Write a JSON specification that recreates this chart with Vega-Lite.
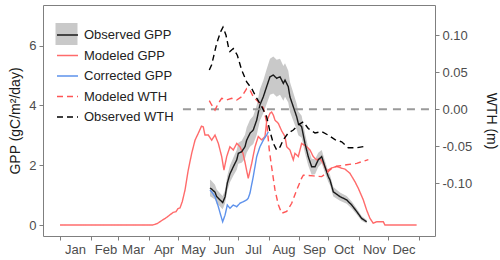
{
  "$schema": "https://vega.github.io/schema/vega-lite/v6.json",
  "width": 392,
  "height": 231,
  "autosize": {"type": "none"},
  "padding": {"left": 43, "top": 5, "right": 65, "bottom": 24},
  "config": {
    "view": {"stroke": "#7f7f7f", "strokeWidth": 1},
    "font": "Liberation Sans",
    "axis": {"domain": false, "grid": false, "tickColor": "#7f7f7f", "tickSize": 4, "labelColor": "#4d4d4d", "labelFontSize": 13, "titleFontSize": 14, "titleFontWeight": "normal", "titleColor": "#1a1a1a", "labelPadding": 3, "labelOverlap": false, "labelFlush": false, "labelBound": false},
    "axisX": {"labelOverlap": false}
  },
  "datasets": {
    "lines": [
      {"s":"Modeled GPP","d":1,"v":0},{"s":"Modeled GPP","d":95.3,"v":0},{"s":"Modeled GPP","d":100,"v":0.05},{"s":"Modeled GPP","d":104,"v":0.14},{"s":"Modeled GPP","d":108,"v":0.22},{"s":"Modeled GPP","d":112,"v":0.32},{"s":"Modeled GPP","d":116,"v":0.42},{"s":"Modeled GPP","d":119,"v":0.45},{"s":"Modeled GPP","d":121,"v":0.55},{"s":"Modeled GPP","d":123,"v":0.57},{"s":"Modeled GPP","d":125.3,"v":0.78},{"s":"Modeled GPP","d":128.1,"v":1.17},{"s":"Modeled GPP","d":131.4,"v":1.84},{"s":"Modeled GPP","d":134.9,"v":2.4},{"s":"Modeled GPP","d":138.3,"v":2.84},{"s":"Modeled GPP","d":141.6,"v":3.07},{"s":"Modeled GPP","d":144.9,"v":3.31},{"s":"Modeled GPP","d":146.7,"v":3.28},{"s":"Modeled GPP","d":148.4,"v":3.01},{"s":"Modeled GPP","d":151.8,"v":3.01},{"s":"Modeled GPP","d":155.2,"v":2.84},{"s":"Modeled GPP","d":158.6,"v":3.01},{"s":"Modeled GPP","d":162,"v":2.73},{"s":"Modeled GPP","d":165.4,"v":2.29},{"s":"Modeled GPP","d":167.7,"v":1.84},{"s":"Modeled GPP","d":170.5,"v":2.29},{"s":"Modeled GPP","d":173.8,"v":2.62},{"s":"Modeled GPP","d":177.2,"v":2.51},{"s":"Modeled GPP","d":180.7,"v":2.73},{"s":"Modeled GPP","d":184,"v":2.62},{"s":"Modeled GPP","d":187,"v":2.4},{"s":"Modeled GPP","d":189.1,"v":2.1},{"s":"Modeled GPP","d":192.4,"v":1.56},{"s":"Modeled GPP","d":195.9,"v":2.06},{"s":"Modeled GPP","d":199.3,"v":2.62},{"s":"Modeled GPP","d":202.6,"v":2.96},{"s":"Modeled GPP","d":206,"v":2.85},{"s":"Modeled GPP","d":209.4,"v":2.96},{"s":"Modeled GPP","d":211.1,"v":3.46},{"s":"Modeled GPP","d":214.5,"v":3.74},{"s":"Modeled GPP","d":216.2,"v":3.78},{"s":"Modeled GPP","d":217.9,"v":3.68},{"s":"Modeled GPP","d":219.6,"v":3.51},{"s":"Modeled GPP","d":223,"v":3.4},{"s":"Modeled GPP","d":226.4,"v":3.15},{"s":"Modeled GPP","d":229.8,"v":2.96},{"s":"Modeled GPP","d":231.5,"v":2.62},{"s":"Modeled GPP","d":234.8,"v":2.51},{"s":"Modeled GPP","d":238.2,"v":2.18},{"s":"Modeled GPP","d":239.9,"v":2.4},{"s":"Modeled GPP","d":243.3,"v":2.29},{"s":"Modeled GPP","d":246.7,"v":2.73},{"s":"Modeled GPP","d":251.8,"v":2.62},{"s":"Modeled GPP","d":255.2,"v":2.51},{"s":"Modeled GPP","d":258.5,"v":2.29},{"s":"Modeled GPP","d":261.9,"v":2.18},{"s":"Modeled GPP","d":265.3,"v":2.23},{"s":"Modeled GPP","d":268.7,"v":2.06},{"s":"Modeled GPP","d":272.2,"v":1.81},{"s":"Modeled GPP","d":277.2,"v":1.91},{"s":"Modeled GPP","d":282.3,"v":1.96},{"s":"Modeled GPP","d":287.4,"v":1.9},{"s":"Modeled GPP","d":290.8,"v":1.87},{"s":"Modeled GPP","d":295.8,"v":1.73},{"s":"Modeled GPP","d":300.9,"v":1.45},{"s":"Modeled GPP","d":304.3,"v":1.23},{"s":"Modeled GPP","d":309.4,"v":0.84},{"s":"Modeled GPP","d":312.8,"v":0.5},{"s":"Modeled GPP","d":316.2,"v":0.22},{"s":"Modeled GPP","d":319.5,"v":0.06},{"s":"Modeled GPP","d":323,"v":0.11},{"s":"Modeled GPP","d":329.7,"v":0.11},{"s":"Modeled GPP","d":331.4,"v":0},{"s":"Modeled GPP","d":363.6,"v":0},
      {"s":"Corrected GPP","d":153.5,"v":1.17},{"s":"Corrected GPP","d":155.2,"v":1.11},{"s":"Corrected GPP","d":158.6,"v":0.95},{"s":"Corrected GPP","d":162,"v":0.61},{"s":"Corrected GPP","d":164.4,"v":0.33},{"s":"Corrected GPP","d":166.4,"v":0.11},{"s":"Corrected GPP","d":168.8,"v":0.33},{"s":"Corrected GPP","d":171.1,"v":0.67},{"s":"Corrected GPP","d":173.8,"v":0.56},{"s":"Corrected GPP","d":177.2,"v":0.67},{"s":"Corrected GPP","d":180.7,"v":0.61},{"s":"Corrected GPP","d":184,"v":0.73},{"s":"Corrected GPP","d":187.4,"v":0.78},{"s":"Corrected GPP","d":190.8,"v":0.84},{"s":"Corrected GPP","d":192.4,"v":0.9},{"s":"Corrected GPP","d":194.2,"v":1.07},{"s":"Corrected GPP","d":197.5,"v":1.62},{"s":"Corrected GPP","d":201,"v":2.29},{"s":"Corrected GPP","d":204.3,"v":2.62},{"s":"Corrected GPP","d":207.7,"v":2.84},{"s":"Corrected GPP","d":211.1,"v":3.01},{"s":"Corrected GPP","d":212.8,"v":3.12},
      {"s":"Observed GPP","d":153.5,"v":1.24},{"s":"Observed GPP","d":155.2,"v":1.2},{"s":"Observed GPP","d":158.6,"v":1.1},{"s":"Observed GPP","d":160.3,"v":0.95},{"s":"Observed GPP","d":163.7,"v":0.84},{"s":"Observed GPP","d":166.4,"v":0.75},{"s":"Observed GPP","d":168.8,"v":0.94},{"s":"Observed GPP","d":171.1,"v":1.4},{"s":"Observed GPP","d":173.8,"v":1.71},{"s":"Observed GPP","d":177.2,"v":1.95},{"s":"Observed GPP","d":180.7,"v":2.18},{"s":"Observed GPP","d":182.3,"v":2.4},{"s":"Observed GPP","d":185.7,"v":2.45},{"s":"Observed GPP","d":189.1,"v":2.62},{"s":"Observed GPP","d":190.8,"v":2.84},{"s":"Observed GPP","d":194.2,"v":3.07},{"s":"Observed GPP","d":197.5,"v":3.18},{"s":"Observed GPP","d":201,"v":3.51},{"s":"Observed GPP","d":204.3,"v":4.02},{"s":"Observed GPP","d":207.7,"v":4.29},{"s":"Observed GPP","d":211.1,"v":4.63},{"s":"Observed GPP","d":214.5,"v":4.96},{"s":"Observed GPP","d":217.9,"v":5.02},{"s":"Observed GPP","d":221.3,"v":4.91},{"s":"Observed GPP","d":224.7,"v":4.96},{"s":"Observed GPP","d":228.1,"v":4.74},{"s":"Observed GPP","d":229.8,"v":4.85},{"s":"Observed GPP","d":233.1,"v":4.63},{"s":"Observed GPP","d":234.8,"v":4.29},{"s":"Observed GPP","d":238.2,"v":3.96},{"s":"Observed GPP","d":241.7,"v":3.62},{"s":"Observed GPP","d":243.3,"v":3.4},{"s":"Observed GPP","d":246.7,"v":3.29},{"s":"Observed GPP","d":250.1,"v":2.73},{"s":"Observed GPP","d":253.4,"v":2.29},{"s":"Observed GPP","d":256.9,"v":1.95},{"s":"Observed GPP","d":260.3,"v":1.95},{"s":"Observed GPP","d":263.6,"v":2.18},{"s":"Observed GPP","d":267.1,"v":2.29},{"s":"Observed GPP","d":270.4,"v":1.95},{"s":"Observed GPP","d":273.8,"v":1.62},{"s":"Observed GPP","d":275.5,"v":1.51},{"s":"Observed GPP","d":278.9,"v":1.11},{"s":"Observed GPP","d":285.7,"v":0.95},{"s":"Observed GPP","d":292.5,"v":0.84},{"s":"Observed GPP","d":297.6,"v":0.67},{"s":"Observed GPP","d":302.7,"v":0.45},{"s":"Observed GPP","d":307.7,"v":0.22},{"s":"Observed GPP","d":312.8,"v":0.11},
      {"s":"Modeled WTH","d":152.8,"v":0.0116},{"s":"Modeled WTH","d":155.2,"v":0.0058},{"s":"Modeled WTH","d":158.6,"v":-0.001},{"s":"Modeled WTH","d":162,"v":0.0081},{"s":"Modeled WTH","d":165.4,"v":0.0149},{"s":"Modeled WTH","d":170.5,"v":0.0126},{"s":"Modeled WTH","d":175.6,"v":0.0149},{"s":"Modeled WTH","d":180.7,"v":0.0126},{"s":"Modeled WTH","d":185.7,"v":0.017},{"s":"Modeled WTH","d":190.8,"v":0.028},{"s":"Modeled WTH","d":194.2,"v":0.026},{"s":"Modeled WTH","d":197.5,"v":0.017},{"s":"Modeled WTH","d":202.6,"v":0.01},{"s":"Modeled WTH","d":207.7,"v":0.002},{"s":"Modeled WTH","d":211.1,"v":-0.017},{"s":"Modeled WTH","d":213.8,"v":-0.055},{"s":"Modeled WTH","d":216.2,"v":-0.078},{"s":"Modeled WTH","d":219.6,"v":-0.109},{"s":"Modeled WTH","d":223,"v":-0.129},{"s":"Modeled WTH","d":226.4,"v":-0.1405},{"s":"Modeled WTH","d":231.5,"v":-0.138},{"s":"Modeled WTH","d":236.6,"v":-0.127},{"s":"Modeled WTH","d":241.7,"v":-0.109},{"s":"Modeled WTH","d":246.7,"v":-0.093},{"s":"Modeled WTH","d":248.4,"v":-0.089},{"s":"Modeled WTH","d":258.5,"v":-0.09},{"s":"Modeled WTH","d":267.1,"v":-0.091},{"s":"Modeled WTH","d":272.2,"v":-0.086},{"s":"Modeled WTH","d":277.2,"v":-0.08},{"s":"Modeled WTH","d":282.3,"v":-0.077},{"s":"Modeled WTH","d":292.5,"v":-0.075},{"s":"Modeled WTH","d":302.7,"v":-0.073},{"s":"Modeled WTH","d":314.5,"v":-0.068},
      {"s":"Observed WTH","d":152.8,"v":0.053},{"s":"Observed WTH","d":155.2,"v":0.06},{"s":"Observed WTH","d":160.3,"v":0.089},{"s":"Observed WTH","d":164.4,"v":0.105},{"s":"Observed WTH","d":166.7,"v":0.111},{"s":"Observed WTH","d":169.8,"v":0.1},{"s":"Observed WTH","d":172.1,"v":0.085},{"s":"Observed WTH","d":173.8,"v":0.078},{"s":"Observed WTH","d":177.2,"v":0.082},{"s":"Observed WTH","d":181.3,"v":0.073},{"s":"Observed WTH","d":185.7,"v":0.053},{"s":"Observed WTH","d":190.8,"v":0.037},{"s":"Observed WTH","d":195.9,"v":0.028},{"s":"Observed WTH","d":201,"v":0.015},{"s":"Observed WTH","d":206.1,"v":0.0035},{"s":"Observed WTH","d":211.1,"v":-0.01},{"s":"Observed WTH","d":214.5,"v":-0.03},{"s":"Observed WTH","d":217.9,"v":-0.046},{"s":"Observed WTH","d":221.3,"v":-0.055},{"s":"Observed WTH","d":224.7,"v":-0.051},{"s":"Observed WTH","d":228.1,"v":-0.041},{"s":"Observed WTH","d":233.1,"v":-0.032},{"s":"Observed WTH","d":238.2,"v":-0.028},{"s":"Observed WTH","d":243.3,"v":-0.021},{"s":"Observed WTH","d":248.4,"v":-0.017},{"s":"Observed WTH","d":253.4,"v":-0.026},{"s":"Observed WTH","d":260.3,"v":-0.032},{"s":"Observed WTH","d":267.1,"v":-0.03},{"s":"Observed WTH","d":273.8,"v":-0.035},{"s":"Observed WTH","d":280.6,"v":-0.041},{"s":"Observed WTH","d":287.4,"v":-0.044},{"s":"Observed WTH","d":294.1,"v":-0.052},{"s":"Observed WTH","d":302.7,"v":-0.052},{"s":"Observed WTH","d":311.1,"v":-0.05}
    ],
    "band": [
      {"d":153.5,"lo":0.96,"hi":1.52},{"d":155.2,"lo":0.93,"hi":1.47},{"d":158.6,"lo":0.85,"hi":1.35},{"d":160.3,"lo":0.71,"hi":1.19},{"d":163.7,"lo":0.62,"hi":1.06},{"d":166.4,"lo":0.53,"hi":0.97},{"d":168.8,"lo":0.72,"hi":1.16},{"d":171.1,"lo":1.15,"hi":1.65},{"d":173.8,"lo":1.43,"hi":1.99},{"d":177.2,"lo":1.65,"hi":2.25},{"d":180.7,"lo":1.85,"hi":2.51},{"d":182.3,"lo":2.05,"hi":2.75},{"d":185.7,"lo":2.08,"hi":2.82},{"d":189.1,"lo":2.22,"hi":3.02},{"d":190.8,"lo":2.42,"hi":3.26},{"d":194.2,"lo":2.62,"hi":3.52},{"d":197.5,"lo":2.71,"hi":3.65},{"d":201,"lo":3.01,"hi":4.01},{"d":204.3,"lo":3.5,"hi":4.54},{"d":207.7,"lo":3.74,"hi":4.84},{"d":211.1,"lo":4.05,"hi":5.21},{"d":214.5,"lo":4.36,"hi":5.56},{"d":217.9,"lo":4.4,"hi":5.64},{"d":221.3,"lo":4.29,"hi":5.53},{"d":224.7,"lo":4.36,"hi":5.56},{"d":228.1,"lo":4.16,"hi":5.32},{"d":229.8,"lo":4.29,"hi":5.41},{"d":233.1,"lo":4.1,"hi":5.16},{"d":234.8,"lo":3.79,"hi":4.79},{"d":238.2,"lo":3.49,"hi":4.43},{"d":241.7,"lo":3.19,"hi":4.05},{"d":243.3,"lo":3.0,"hi":3.8},{"d":246.7,"lo":2.92,"hi":3.66},{"d":250.1,"lo":2.4,"hi":3.06},{"d":253.4,"lo":1.99,"hi":2.59},{"d":256.9,"lo":1.68,"hi":2.22},{"d":260.3,"lo":1.7,"hi":2.2},{"d":263.6,"lo":1.94,"hi":2.42},{"d":267.1,"lo":2.07,"hi":2.51},{"d":270.4,"lo":1.75,"hi":2.15},{"d":273.8,"lo":1.44,"hi":1.8},{"d":275.5,"lo":1.34,"hi":1.68},{"d":278.9,"lo":0.95,"hi":1.27},{"d":285.7,"lo":0.81,"hi":1.09},{"d":292.5,"lo":0.71,"hi":0.97},{"d":297.6,"lo":0.55,"hi":0.79},{"d":302.7,"lo":0.35,"hi":0.55},{"d":307.7,"lo":0.14,"hi":0.3},{"d":312.8,"lo":0.05,"hi":0.17}
    ],
    "zero": [{"x1": 126, "x2": 382.3, "y": 0}]
  },
  "layer": [
    {
      "layer": [
        {
          "data": {"name": "band"},
          "mark": {"type": "area", "opacity": 1},
          "encoding": {
            "x": {"field": "d", "type": "quantitative", "title": null, "scale": {"domain": [-16.3, 382.3], "nice": false, "zero": false}, "axis": {"values": [1, 32, 60, 91, 121, 152, 182, 213, 244, 274, 305, 335, 366], "labelExpr": "datum.value > 360 ? '' : timeFormat(datetime(2021, 0, datum.value), '%b')", "labelOffset": 15, "labelOverlap": false, "labelFlush": false}},
            "y": {"field": "lo", "type": "quantitative", "title": "GPP (gC/m²/day)", "scale": {"domain": [-0.368, 7.363], "nice": false, "zero": false}, "axis": {"orient": "left", "values": [0, 2, 4, 6], "titlePadding": 6}},
            "y2": {"field": "hi"},
            "fill": {"datum": "Observed GPP", "type": "nominal", "scale": {"range": ["#C9C9C9"]}, "legend": {"orient": "none", "legendX": 12.5, "legendY": 18, "title": null, "symbolType": "square", "symbolSize": 484, "symbolStrokeWidth": 0, "symbolOpacity": 1, "labelExpr": "''", "padding": 0}}
          }
        },
        {
          "data": {"name": "lines"},
          "transform": [{"filter": "indexof(['Observed GPP','Modeled GPP','Corrected GPP'], datum.s) >= 0"}],
          "mark": {"type": "line", "strokeWidth": 1.4},
          "encoding": {
            "x": {"field": "d", "type": "quantitative", "title": null, "scale": {"domain": [-16.3, 382.3], "nice": false, "zero": false}, "axis": {"values": [1, 32, 60, 91, 121, 152, 182, 213, 244, 274, 305, 335, 366], "labelExpr": "datum.value > 360 ? '' : timeFormat(datetime(2021, 0, datum.value), '%b')", "labelOffset": 15, "labelOverlap": false, "labelFlush": false}},
            "y": {"field": "v", "type": "quantitative", "title": "GPP (gC/m²/day)", "scale": {"domain": [-0.368, 7.363], "nice": false, "zero": false}},
            "color": {"field": "s", "type": "nominal", "scale": {"domain": ["Observed GPP", "Modeled GPP", "Corrected GPP", "Modeled WTH", "Observed WTH"], "range": ["#1a1a1a", "#FF6B6B", "#5E92EC", "#FF5555", "#000000"]}, "legend": {"orient": "none", "legendX": 13, "legendY": 18.5, "title": null, "symbolType": "stroke", "symbolSize": 441, "symbolStrokeWidth": 1.5, "labelFontSize": 13, "labelColor": "#222222", "labelOffset": 5, "rowPadding": 1.5, "padding": 0}},
            "strokeDash": {"field": "s", "type": "nominal", "scale": {"domain": ["Observed GPP", "Modeled GPP", "Corrected GPP", "Modeled WTH", "Observed WTH"], "range": [[1, 0], [1, 0], [1, 0], [6, 4], [6, 4]]}, "legend": {"orient": "none", "legendX": 13, "legendY": 18.5, "title": null, "symbolType": "stroke", "symbolSize": 441, "symbolStrokeWidth": 1.5, "labelFontSize": 13, "labelColor": "#222222", "labelOffset": 5, "rowPadding": 1.5, "padding": 0}}
          }
        }
      ]
    },
    {
      "layer": [
        {
          "data": {"name": "zero"},
          "mark": {"type": "rule", "color": "#9a9a9a", "strokeWidth": 2, "strokeDash": [8, 6]},
          "encoding": {
            "x": {"field": "x1", "type": "quantitative", "title": null, "scale": {"domain": [-16.3, 382.3], "nice": false, "zero": false}, "axis": {"values": [1, 32, 60, 91, 121, 152, 182, 213, 244, 274, 305, 335, 366], "labelExpr": "datum.value > 360 ? '' : timeFormat(datetime(2021, 0, datum.value), '%b')", "labelOffset": 15, "labelOverlap": false, "labelFlush": false}},
            "x2": {"field": "x2"},
            "y": {"field": "y", "type": "quantitative", "title": "WTH (m)", "scale": {"domain": [-0.1712, 0.1409], "nice": false, "zero": false}, "axis": {"orient": "right", "values": [-0.1, -0.05, 0, 0.05, 0.1], "labelExpr": "replace(format(datum.value, '.2f'), '\u2212', '-')", "titleAngle": 90, "titlePadding": 12}}
          }
        },
        {
          "data": {"name": "lines"},
          "transform": [{"filter": "indexof(['Modeled WTH','Observed WTH'], datum.s) >= 0"}],
          "mark": {"type": "line", "strokeWidth": 1.4},
          "encoding": {
            "x": {"field": "d", "type": "quantitative", "title": null, "scale": {"domain": [-16.3, 382.3], "nice": false, "zero": false}, "axis": {"values": [1, 32, 60, 91, 121, 152, 182, 213, 244, 274, 305, 335, 366], "labelExpr": "datum.value > 360 ? '' : timeFormat(datetime(2021, 0, datum.value), '%b')", "labelOffset": 15, "labelOverlap": false, "labelFlush": false}},
            "y": {"field": "v", "type": "quantitative", "title": "WTH (m)", "scale": {"domain": [-0.1712, 0.1409], "nice": false, "zero": false}},
            "color": {"field": "s", "type": "nominal", "scale": {"domain": ["Observed GPP", "Modeled GPP", "Corrected GPP", "Modeled WTH", "Observed WTH"], "range": ["#1a1a1a", "#FF6B6B", "#5E92EC", "#FF5555", "#000000"]}, "legend": {"orient": "none", "legendX": 13, "legendY": 18.5, "title": null, "symbolType": "stroke", "symbolSize": 441, "symbolStrokeWidth": 1.5, "labelFontSize": 13, "labelColor": "#222222", "labelOffset": 5, "rowPadding": 1.5, "padding": 0}},
            "strokeDash": {"field": "s", "type": "nominal", "scale": {"domain": ["Observed GPP", "Modeled GPP", "Corrected GPP", "Modeled WTH", "Observed WTH"], "range": [[1, 0], [1, 0], [1, 0], [6, 4], [6, 4]]}, "legend": {"orient": "none", "legendX": 13, "legendY": 18.5, "title": null, "symbolType": "stroke", "symbolSize": 441, "symbolStrokeWidth": 1.5, "labelFontSize": 13, "labelColor": "#222222", "labelOffset": 5, "rowPadding": 1.5, "padding": 0}}
          }
        }
      ]
    }
  ],
  "resolve": {"scale": {"y": "independent"}}
}
